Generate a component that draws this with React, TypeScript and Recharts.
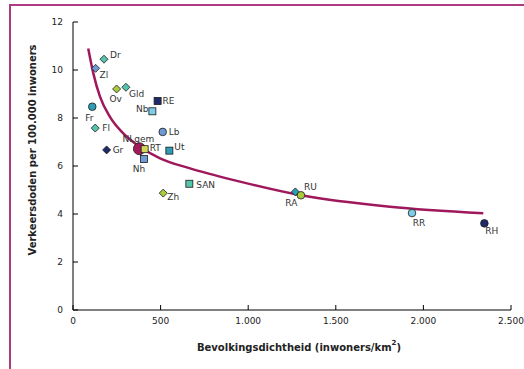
import React from 'react';
import { ComposedChart, Scatter, Line, XAxis, YAxis } from 'recharts';

// ---- data ----
const regions = ['Dr', 'Zl', 'Ov', 'Gld', 'RE', 'Nb', 'Fr', 'Fl', 'Lb', 'Gr', 'Ut', 'Nh', 'Zh', 'SAN', 'RA', 'RU', 'RR', 'RH', 'NLgem', 'RT'];
const density = [177, 129, 249, 302, 483, 453, 110, 127, 512, 192, 550, 405, 515, 664, 1269, 1301, 1935, 2348, 379, 409];
const deaths = [10.45, 10.07, 9.21, 9.28, 8.71, 8.28, 8.47, 7.58, 7.42, 6.67, 6.64, 6.29, 4.87, 5.26, 4.92, 4.78, 4.04, 3.61, 6.72, 6.7];

const trendX = [87, 116, 154, 211, 287, 382, 497, 668, 953, 1296, 1809, 2342];
const trendY = [10.9, 9.86, 8.89, 8.05, 7.36, 6.8, 6.32, 5.9, 5.35, 4.79, 4.3, 4.03];

const xTicks = [0, 500, 1000, 1500, 2000, 2500];
const yTicks = [0, 2, 4, 6, 8, 10, 12];

const points = regions.map((name, i) => ({ name, x: density[i], y: deaths[i] }));
const trend = trendX.map((x, i) => ({ x, y: trendY[i] }));

// ---- styles ----
const NAVY = '#1F2A6B';
const TEAL = '#2E9CB4';
const LIGHTBLUE = '#7CCDE8';
const BLUE = '#6E9BD4';
const SEA = '#55C4AC';
const LIME = '#A8CC3C';
const CRIMSON = '#A3195B';
const FRAME = '#AE3A82';

type Sh = 'diamond' | 'square' | 'circle';
const markerStyle: Record<string, { shape: Sh; fill: string; r?: number }> = {
  Dr: { shape: 'diamond', fill: SEA },
  Zl: { shape: 'diamond', fill: BLUE },
  Ov: { shape: 'diamond', fill: LIME },
  Gld: { shape: 'diamond', fill: SEA },
  RE: { shape: 'square', fill: NAVY },
  Nb: { shape: 'square', fill: LIGHTBLUE },
  Fr: { shape: 'circle', fill: TEAL },
  Fl: { shape: 'diamond', fill: SEA },
  Lb: { shape: 'circle', fill: BLUE },
  Gr: { shape: 'diamond', fill: NAVY },
  RT: { shape: 'square', fill: '#D2D65A' },
  Ut: { shape: 'square', fill: TEAL },
  Nh: { shape: 'square', fill: BLUE },
  Zh: { shape: 'diamond', fill: LIME },
  SAN: { shape: 'square', fill: SEA },
  RA: { shape: 'diamond', fill: TEAL },
  RU: { shape: 'circle', fill: LIME },
  RR: { shape: 'circle', fill: LIGHTBLUE },
  RH: { shape: 'circle', fill: NAVY },
  NLgem: { shape: 'circle', fill: CRIMSON, r: 6 },
};

// label offsets: dx, dy, anchor
const labelPos: Record<string, [number, number, 'start' | 'middle' | 'end']> = {
  Dr: [6, -4, 'start'],
  Zl: [4, 7, 'start'],
  Ov: [-1, 10, 'middle'],
  Gld: [3, 7, 'start'],
  RE: [5, 0, 'start'],
  Nb: [-4, -2, 'end'],
  Fr: [-3, 11, 'middle'],
  Fl: [7, 0, 'start'],
  Lb: [6, 0, 'start'],
  Gr: [6, 0, 'start'],
  NLgem: [-1, -10, 'middle'],
  RT: [5, -1, 'start'],
  Ut: [5, -4, 'start'],
  Nh: [-5, 10, 'middle'],
  Zh: [4, 4, 'start'],
  SAN: [7, 1, 'start'],
  RA: [-4, 11, 'middle'],
  RU: [3, -8, 'start'],
  RR: [7, 10, 'middle'],
  RH: [1, 8, 'start'],
};

const FONT = 'DejaVu Sans, Verdana, sans-serif';
const fmt = (v: number) => (v >= 1000 ? `${Math.floor(v / 1000)}.${String(v % 1000).padStart(3, '0')}` : String(v));

const PointShape = (props: any) => {
  const { cx, cy, payload } = props;
  if (cx == null || cy == null) return null;
  const st = markerStyle[payload.name];
  const lp = labelPos[payload.name];
  const stroke = '#1a1a1a';
  let mark: React.ReactNode;
  if (st.shape === 'diamond') {
    const h = 4;
    mark = <path d={`M${cx},${cy - h}L${cx + h},${cy}L${cx},${cy + h}L${cx - h},${cy}Z`} fill={st.fill} stroke={stroke} strokeWidth={0.8} />;
  } else if (st.shape === 'square') {
    const h = 3.5;
    mark = <rect x={cx - h} y={cy - h} width={2 * h} height={2 * h} fill={st.fill} stroke={stroke} strokeWidth={0.8} />;
  } else {
    mark = <circle cx={cx} cy={cy} r={st.r ?? 3.8} fill={st.fill} stroke={stroke} strokeWidth={0.8} />;
  }
  return (
    <g>
      {mark}
      <text x={cx + lp[0]} y={cy + lp[1]} textAnchor={lp[2]} dominantBaseline="central" fontSize={9} fontFamily={FONT} fill="#333">
        {payload.name}
      </text>
    </g>
  );
};

export default function App() {
  return (
    <div style={{ position: 'fixed', left: 0, top: 0, width: 524, height: 369, overflow: 'hidden', background: '#fff' }}>
      <div style={{ position: 'absolute', left: 0, top: 0 }}>
        <ComposedChart width={524} height={369} margin={{ top: 22, right: 13, bottom: 14, left: 0 }}>
          <XAxis
            type="number"
            dataKey="x"
            domain={[0, 2500]}
            ticks={xTicks}
            interval={0}
            tickFormatter={fmt}
            axisLine={{ stroke: '#000' }}
            tickLine={{ stroke: '#000' }}
            tickSize={-5}
            tickMargin={13}
            height={45}
            tick={{ fontSize: 9, fill: '#222', fontFamily: FONT }}
            allowDataOverflow
          />
          <YAxis
            type="number"
            dataKey="y"
            domain={[0, 12]}
            ticks={yTicks}
            interval={0}
            axisLine={{ stroke: '#000' }}
            tickLine={{ stroke: '#000' }}
            tickSize={-5}
            tickMargin={15}
            width={73}
            tick={{ fontSize: 9, fill: '#222', fontFamily: FONT }}
            allowDataOverflow
          />
          <Line data={trend} dataKey="y" type="monotone" stroke="#A0185C" strokeWidth={2.5} dot={false} activeDot={false} isAnimationActive={false} />
          <Scatter data={points} dataKey="y" shape={PointShape} isAnimationActive={false} />
        </ComposedChart>
      </div>
      <svg style={{ position: 'absolute', left: 0, top: 0, pointerEvents: 'none' }} width={524} height={369}>
        <line x1={9} y1={5} x2={524} y2={5} stroke={FRAME} strokeWidth={2} />
        <line x1={10} y1={4} x2={10} y2={369} stroke={FRAME} strokeWidth={2} />
        <text x={32} y={150} transform="rotate(-90 32 150)" textAnchor="middle" dominantBaseline="central" fontSize={10} fontWeight="bold" fontFamily={FONT} fill="#222">
          Verkeersdoden per 100.000 inwoners
        </text>
        <text x={299} y={347} textAnchor="middle" dominantBaseline="central" fontSize={10} fontWeight="bold" fontFamily={FONT} fill="#222">
          Bevolkingsdichtheid (inwoners/km
          <tspan fontSize={7} dy={-4}>2</tspan>
          <tspan dy={4}>)</tspan>
        </text>
      </svg>
    </div>
  );
}
